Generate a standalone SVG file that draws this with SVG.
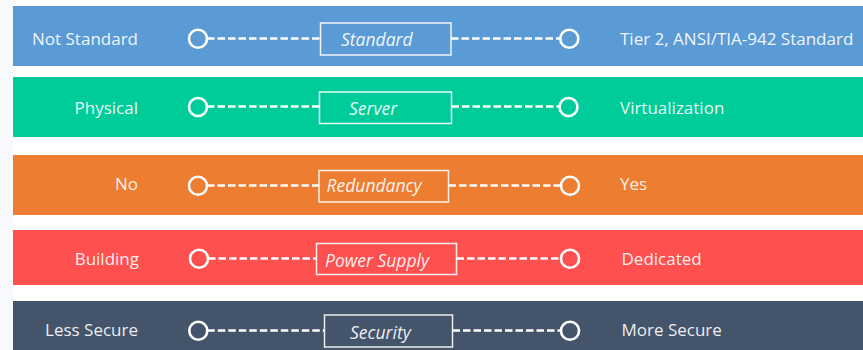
<svg xmlns="http://www.w3.org/2000/svg" width="863" height="350" viewBox="0 0 863 350">
<style>
.lbl{font-family:"Open Sans","Noto Sans","Liberation Sans",sans-serif;font-size:17px;fill:#ffffff;fill-opacity:0.92}
.l{text-anchor:end}
.it{font-style:italic;font-size:17.5px}
.end{fill:none;stroke:#ffffff;stroke-width:2.6}
.box{fill:none;stroke:#ffffff;stroke-opacity:0.9;stroke-width:1.5}
.dash{stroke:#ffffff;stroke-width:2.5;stroke-dasharray:7.5 3;fill:none}
</style>
<rect x="0" y="0" width="863" height="350" fill="#ffffff"/>
<rect x="0" y="0" width="13" height="350" fill="#f7f9fd"/>
<g id="row-standard">
<rect x="13" y="6" width="850" height="60" fill="#5b9bd5"/>
<text class="lbl l" x="138" y="44.5">Not Standard</text>
<circle class="end" cx="198" cy="38.8" r="9"/>
<rect class="box" x="320.5" y="23" width="130.5" height="32"/>
<text class="lbl it" x="341" y="45.5">Standard</text>
<circle class="end" cx="569.3" cy="38.8" r="9"/>
<text class="lbl" x="620" y="45">Tier 2, ANSI/TIA-942 Standard</text>
</g>
<g id="row-server">
<rect x="13" y="77" width="850" height="60" fill="#00cc99"/>
<text class="lbl l" x="138" y="113.5">Physical</text>
<circle class="end" cx="198" cy="107" r="9"/>
<rect class="box" x="319.5" y="92" width="132" height="31.5"/>
<text class="lbl it" x="349" y="115">Server</text>
<circle class="end" cx="568.5" cy="107" r="9"/>
<text class="lbl" x="620" y="113.5">Virtualization</text>
</g>
<g id="row-redundancy">
<rect x="13" y="155" width="850" height="60" fill="#ed7d31"/>
<text class="lbl l" x="138" y="190">No</text>
<circle class="end" cx="198" cy="185.7" r="9"/>
<rect class="box" x="319" y="170.5" width="129.5" height="31.5"/>
<text class="lbl it" x="326.5" y="191.5">Redundancy</text>
<circle class="end" cx="570" cy="185.7" r="9"/>
<text class="lbl" x="620" y="190">Yes</text>
</g>
<g id="row-power">
<rect x="13" y="230" width="850" height="55" fill="#ff5050"/>
<text class="lbl l" x="139" y="264.5">Building</text>
<circle class="end" cx="199" cy="258.7" r="9"/>
<rect class="box" x="316.5" y="243.5" width="140" height="31"/>
<text class="lbl it" x="325" y="266.5">Power Supply</text>
<circle class="end" cx="570" cy="258.7" r="9"/>
<text class="lbl" x="621.5" y="265">Dedicated</text>
</g>
<g id="row-security">
<rect x="13" y="301" width="850" height="49" fill="#44546a"/>
<text class="lbl l" x="138" y="336">Less Secure</text>
<circle class="end" cx="198.3" cy="330.7" r="9"/>
<rect class="box" x="324.5" y="315" width="128" height="32"/>
<text class="lbl it" x="350" y="339">Security</text>
<circle class="end" cx="570" cy="330.7" r="9"/>
<text class="lbl" x="621.5" y="336">More Secure</text>
</g>
<g id="connectors">
<line class="dash" x1="207" y1="38.5" x2="320" y2="38.5"/>
<line class="dash" x1="451" y1="38.5" x2="560.3" y2="38.5"/>
<line class="dash" x1="207" y1="106.5" x2="319.5" y2="106.5"/>
<line class="dash" x1="451.5" y1="106.5" x2="559.5" y2="106.5"/>
<line class="dash" x1="207" y1="185.5" x2="319" y2="185.5"/>
<line class="dash" x1="448.5" y1="185.5" x2="561" y2="185.5"/>
<line class="dash" x1="208" y1="258.5" x2="316.5" y2="258.5"/>
<line class="dash" x1="456.5" y1="258.5" x2="561" y2="258.5"/>
<line class="dash" x1="207.3" y1="330.5" x2="324.5" y2="330.5"/>
<line class="dash" x1="452.5" y1="330.5" x2="561" y2="330.5"/>
</g>
</svg>
